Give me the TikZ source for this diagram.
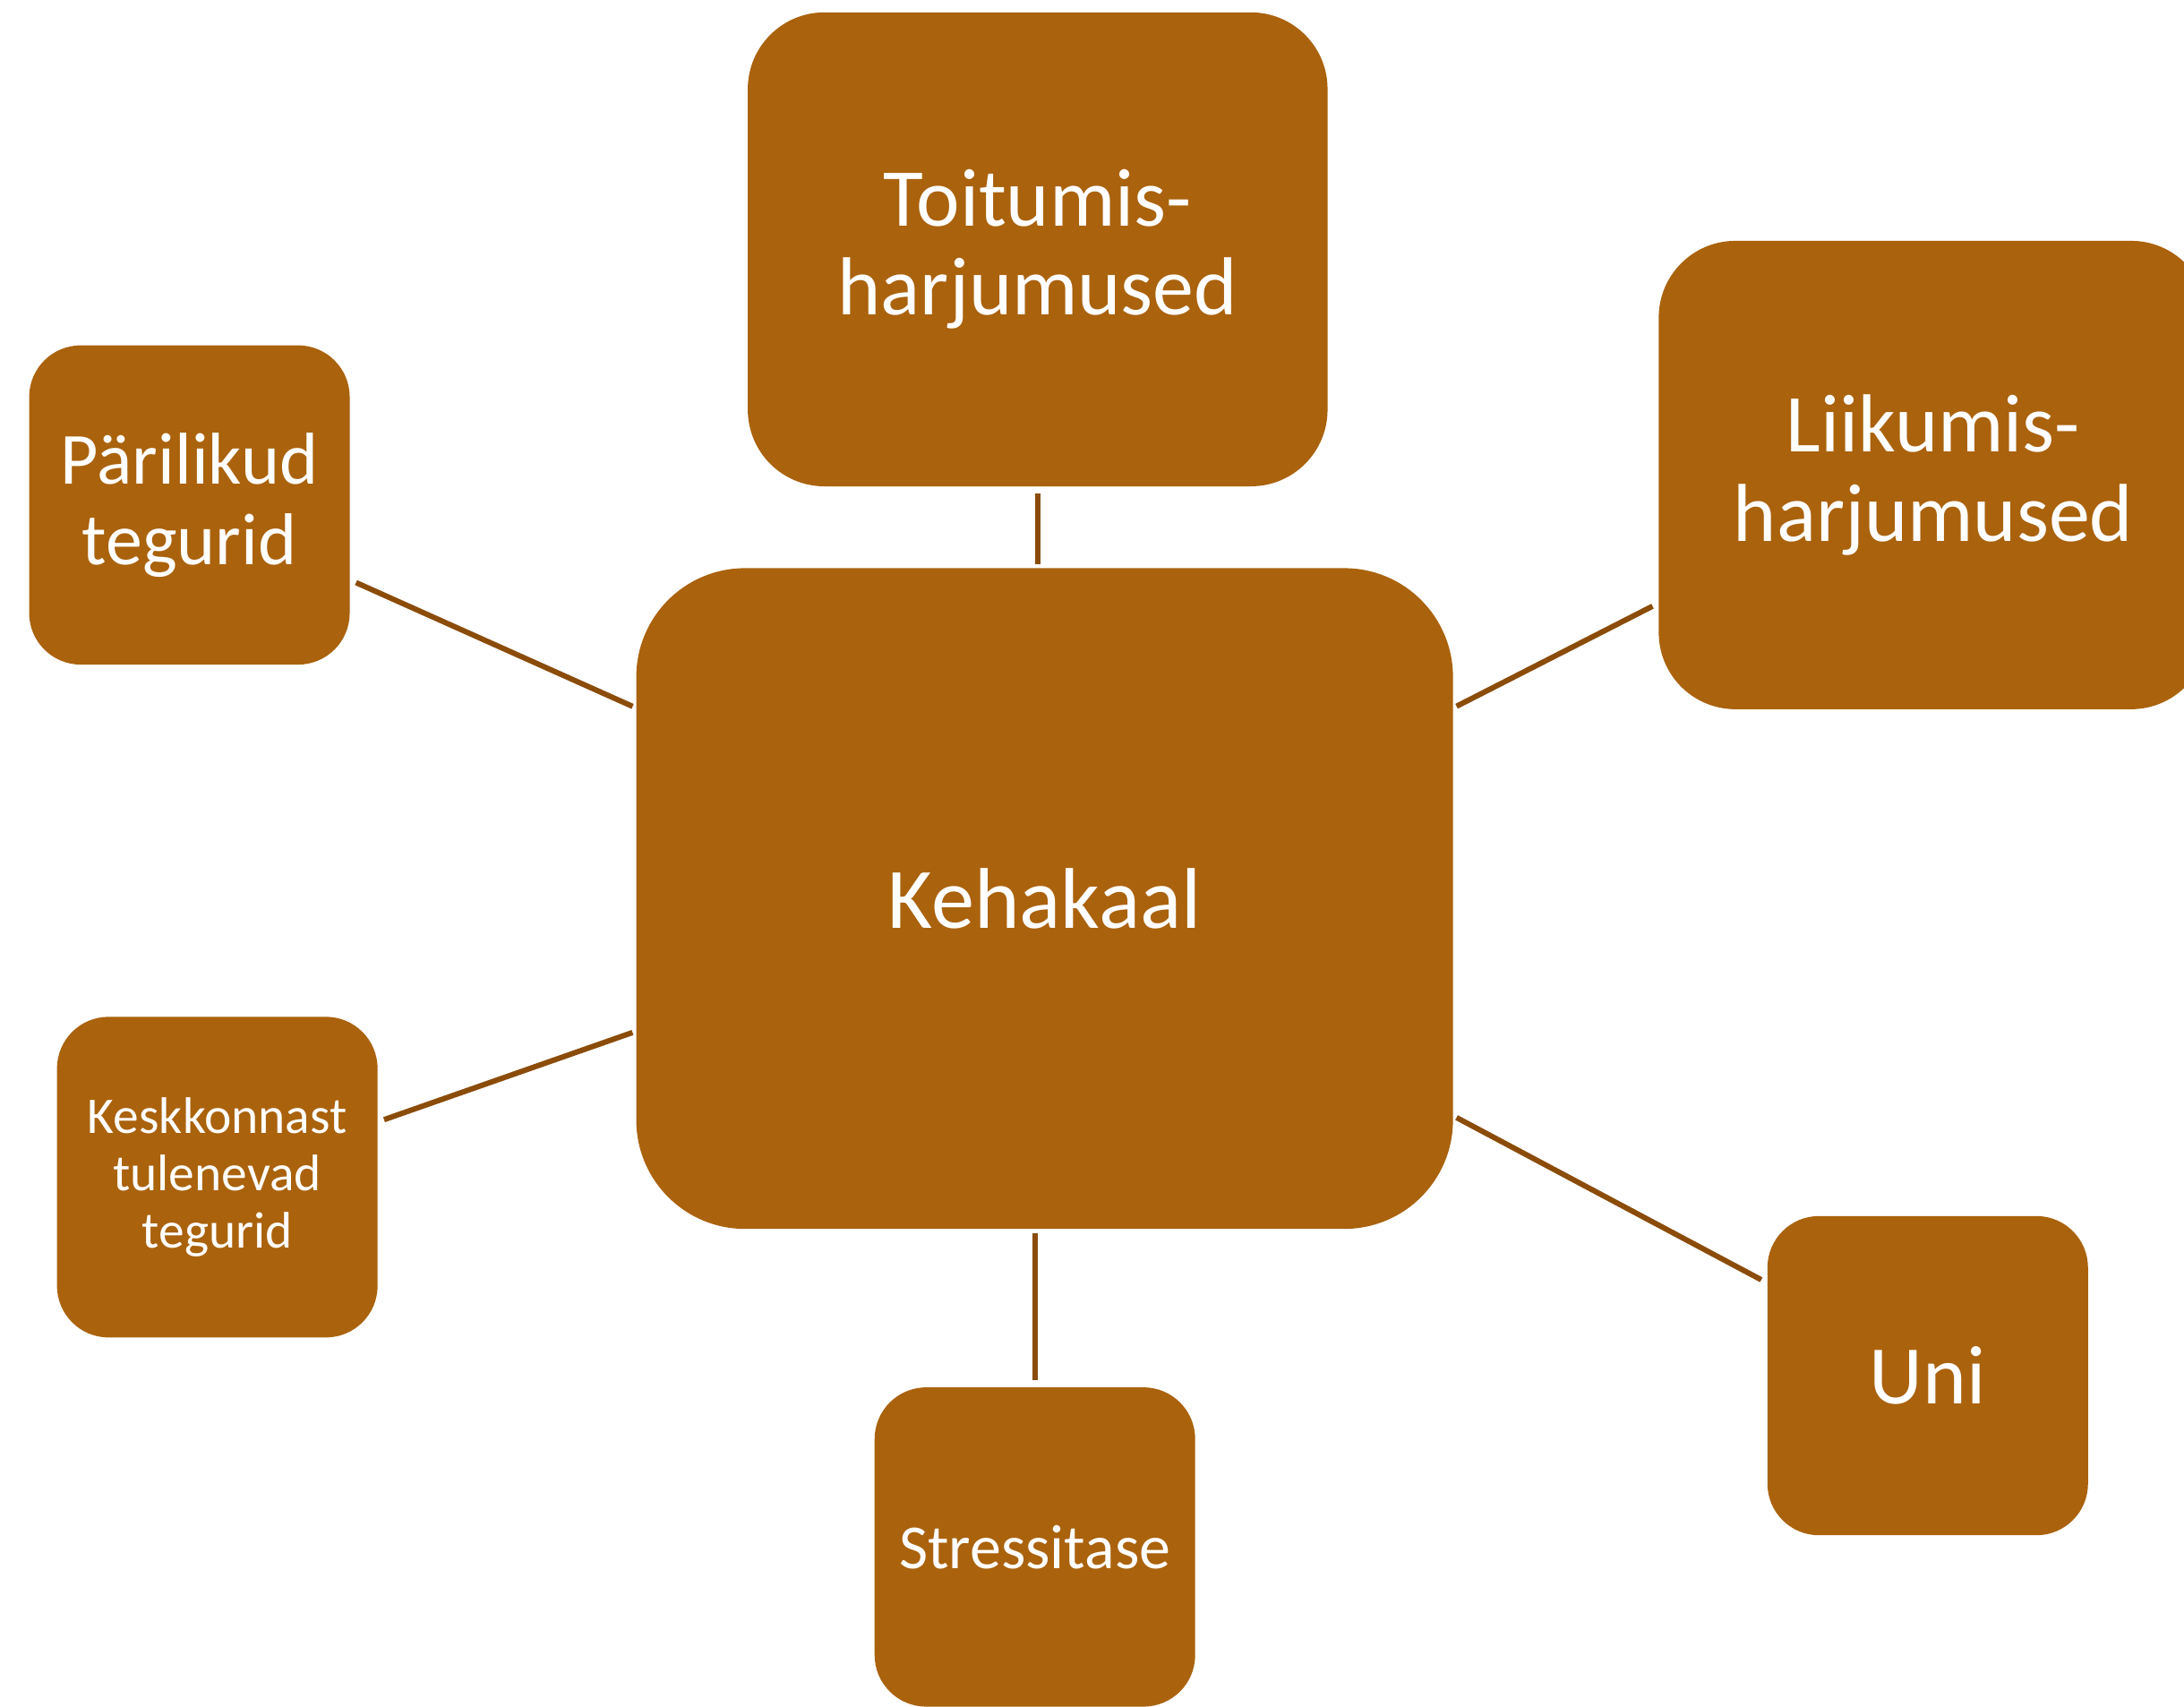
\documentclass[tikz,border=0pt]{standalone}
\usepackage{fontspec}
\setmainfont{Carlito}
\definecolor{boxfill}{HTML}{AA620D}
\definecolor{linkcol}{HTML}{8B4C0A}

\begin{document}
\begin{tikzpicture}[x=0.01cm, y=-0.01cm,
    factor/.style={fill=boxfill, text=white, align=center, inner sep=0pt, rounded corners=#1},
    link/.style={draw=linkcol, line width=1.1pt, shorten <=1.2pt, shorten >=0.6pt}]
    \clip (0,0) rectangle (1568,1225);

    % Central box
    \node[factor=0.78cm, minimum width=5.86cm, minimum height=4.74cm,
          font=\fontsize{17.6}{21}\selectfont] (kehakaal) at (750,645) {Kehakaal};

    % Large boxes on top
    \node[factor=0.55cm, minimum width=4.16cm, minimum height=3.40cm,
          font=\fontsize{16.8}{18.2}\selectfont] (toit) at (745,179) {Toitumis-\\harjumused};
    \node[factor=0.55cm, minimum width=3.94cm, minimum height=3.36cm,
          font=\fontsize{16.8}{18.2}\selectfont] (liik) at (1388,341) {Liikumis-\\harjumused};

    % Small boxes
    \node[factor=0.37cm, minimum width=2.30cm, minimum height=2.29cm,
          font=\fontsize{15}{16.5}\selectfont] (par) at (136,362.5) {Pärilikud\\tegurid};
    \node[factor=0.37cm, minimum width=2.30cm, minimum height=2.30cm,
          font=\fontsize{10.5}{11.7}\selectfont] (kesk) at (156,845) {Keskkonnast\\tulenevad\\tegurid};
    \node[factor=0.37cm, minimum width=2.30cm, minimum height=2.29cm,
          font=\fontsize{12.8}{14}\selectfont] (stress) at (743,1110.5) {Stressitase};
    \node[factor=0.37cm, minimum width=2.30cm, minimum height=2.29cm,
          font=\fontsize{17}{19}\selectfont] (uni) at (1384,987.5) {Uni};

    % Connectors
    \draw[link] (toit.south) -- (toit.south |- kehakaal.north);
    \draw[link] (par.-25.4) -- (kehakaal.155.1);
    \draw[link] (liik.205.7) -- (kehakaal.25.7);
    \draw[link] (kesk.19.6) -- (kehakaal.198.7);
    \draw[link] (stress.north) -- (stress.north |- kehakaal.south);
    \draw[link] (uni.150.7) -- (kehakaal.-28.3);
\end{tikzpicture}
\end{document}
